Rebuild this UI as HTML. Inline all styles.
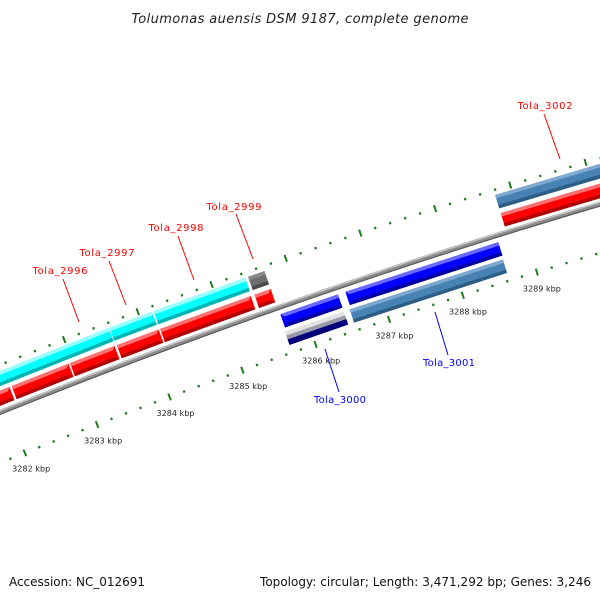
<!DOCTYPE html>
<html><head><meta charset="utf-8">
<style>
html,body{margin:0;padding:0;background:#fff;}
svg{display:block;}
text{font-family:"DejaVu Sans","Liberation Sans",sans-serif;}
</style></head>
<body>
<svg id="chart" width="600" height="600" viewBox="0 0 600 600" xmlns="http://www.w3.org/2000/svg">
  <rect x="0" y="0" width="600" height="600" fill="#fff"/>
  <g id="ticks"></g>
  <g id="backbone"></g>
  <g id="features"></g>
  <g id="ticklabels"></g>
  <g font-size="10">
    <line x1="63" y1="279" x2="79" y2="322" stroke="#f00" stroke-width="1"/>
    <text x="60" y="274" fill="#f00" text-anchor="middle" textLength="55">Tola_2996</text>
    <line x1="109" y1="261" x2="126" y2="305" stroke="#f00" stroke-width="1"/>
    <text x="107" y="256" fill="#f00" text-anchor="middle" textLength="55">Tola_2997</text>
    <line x1="178" y1="236" x2="194" y2="280" stroke="#f00" stroke-width="1"/>
    <text x="176" y="231" fill="#f00" text-anchor="middle" textLength="55">Tola_2998</text>
    <line x1="236" y1="214" x2="253" y2="259" stroke="#f00" stroke-width="1"/>
    <text x="234" y="210" fill="#f00" text-anchor="middle" textLength="55">Tola_2999</text>
    <line x1="544" y1="114" x2="560" y2="159" stroke="#f00" stroke-width="1"/>
    <text x="545" y="109" fill="#f00" text-anchor="middle" textLength="55">Tola_3002</text>
    <line x1="339" y1="392" x2="325" y2="349" stroke="#00f" stroke-width="1"/>
    <text x="340" y="403" fill="#00f" text-anchor="middle" textLength="52">Tola_3000</text>
    <line x1="448" y1="355" x2="435" y2="312" stroke="#00f" stroke-width="1"/>
    <text x="449" y="366" fill="#00f" text-anchor="middle" textLength="52">Tola_3001</text>
  </g>
  <text x="300" y="23" text-anchor="middle" font-size="13" font-style="italic" fill="#222" textLength="337">Tolumonas auensis DSM 9187, complete genome</text>
  <text x="9" y="586" font-size="12" fill="#111" textLength="136">Accession: NC_012691</text>
  <text x="591" y="586" text-anchor="end" font-size="12" fill="#111" textLength="331">Topology: circular; Length: 3,471,292 bp; Genes: 3,246</text>
</svg>
<script>
// ---- data ----
const tickValues = [3282, 3283, 3284, 3285, 3286, 3287, 3288, 3289];
const tickLabels = ["3282 kbp", "3283 kbp", "3284 kbp", "3285 kbp", "3286 kbp", "3287 kbp", "3288 kbp", "3289 kbp"];
const geneStart = [3281.20, 3282.16, 3282.96, 3283.60, 3284.19, 3285.47, 3288.78, 3281.00, 3283.59, 3284.19, 3285.47, 3288.78, 3285.70, 3286.58, 3285.68, 3286.56];
const geneEnd   = [3282.13, 3282.94, 3283.57, 3284.17, 3285.42, 3285.69, 3290.80, 3283.58, 3284.17, 3285.43, 3285.69, 3290.80, 3286.48, 3288.64, 3286.48, 3288.63];
const geneTrack = ["fwd", "fwd", "fwd", "fwd", "fwd", "fwd", "fwd", "fwd2", "fwd2", "fwd2", "fwd2", "fwd2", "rev", "rev", "rev2", "rev2"];
const geneType  = ["cds", "cds", "cds", "cds", "cds", "cds", "cds", "rrna", "rrna", "rrna", "misc", "gene", "cdsrev", "cdsrev", "ncrna", "gene"];

// ---- geometry ----
const CX = 2444, CY = 6486, DEG0 = -21.85, DEG_PER_KBP = 0.684, K0 = 3282;
function polar(k, r) {
  const a = (DEG0 + DEG_PER_KBP * (k - K0)) * Math.PI / 180;
  return [CX + r * Math.sin(a), CY - r * Math.cos(a)];
}
const trackR = { fwd: 6560, fwd2: 6579, rev: 6533, rev2: 6515 };
const H = 14, TIP = 0.08;
const styles = {
  cds:    ["#ff7070", "#ff0000", "#b00000"],
  cdsrev: ["#6a6aff", "#0000ff", "#0000a0"],
  rrna:   ["#9cffff", "#00ffff", "#00b4b4"],
  misc:   ["#8a8a8a", "#6e6e6e", "#4a4a4a"],
  gene:   ["#7ea8cf", "#4682b4", "#2d5c85"],
  ncrna:  ["#e2e2e2", "#9a9aa8", "#00007a"]
};
const NS = "http://www.w3.org/2000/svg";
const ticksG = document.getElementById('ticks');
const bbG = document.getElementById('backbone');
const featG = document.getElementById('features');
const tlG = document.getElementById('ticklabels');

function pts(list) { return list.map(p => p[0].toFixed(2) + "," + p[1].toFixed(2)).join(" "); }

// band polygon between radii ra<rb, with optional arrow tip ('end', 'start', or none)
function band(k0, k1, rc, ra, rb, tip) {
  const half = H / 2;
  const fx = r => TIP * Math.abs(r - rc) / half;
  const poly = [];
  let s0 = k0, s1 = k1;
  const endAt = r => tip === 'end' ? k1 - TIP + fx(r) : k1;
  const startAt = r => tip === 'start' ? k0 + TIP - fx(r) : k0;
  // top edge (rb) from start to end
  poly.push(polar(startAt(rb), rb));
  poly.push(polar(endAt(rb), rb));
  if (tip === 'end' && ra < rc && rb > rc) poly.push(polar(k1, rc));
  poly.push(polar(endAt(ra), ra));
  poly.push(polar(startAt(ra), ra));
  if (tip === 'start' && ra < rc && rb > rc) poly.push(polar(k0, rc));
  return pts(poly);
}

// ---- ticks ----
function tickRow(r, name) {
  for (let i = 0; i <= 60; i++) {
    const k = 3280 + i * 0.2;
    const major = (i % 5 === 0);
    const h = major ? 3.6 : 1.2;
    const p1 = polar(k, r - h), p2 = polar(k, r + h);
    const ln = document.createElementNS(NS, 'line');
    
    
    ln.setAttribute('x1', p1[0]); ln.setAttribute('y1', p1[1]);
    ln.setAttribute('x2', p2[0]); ln.setAttribute('y2', p2[1]);
    ln.setAttribute('stroke', '#1c7c1c');
    ln.setAttribute('stroke-width', major ? 2 : 2.2);
    ticksG.appendChild(ln);
  }
}
tickRow(6591, 'outer');
tickRow(6500, 'inner');

tickValues.forEach((v, i) => {
  const p = polar(v, 6483);
  const t = document.createElementNS(NS, 'text');
  
  
  t.setAttribute('x', p[0]); t.setAttribute('y', p[1] + 3);
  t.setAttribute('text-anchor', 'middle');
  t.setAttribute('font-size', '8');
  t.setAttribute('fill', '#222');
  t.setAttribute('textLength', '38');
  t.textContent = tickLabels[i];
  tlG.appendChild(t);
});

// ---- backbone ----
function arcPath(r) {
  const list = [];
  for (let k = 3280; k <= 3292; k += 0.1) list.push(polar(k, r));
  return pts(list);
}
[[6547, 5, '#8c8c8c', 'backbone-body'], [6548.6, 1.5, '#c4c4c4', 'backbone-highlight'], [6545, 1.2, '#5c5c5c', 'backbone-shadow']].forEach(b => {
  const pl = document.createElementNS(NS, 'polyline');
  
  
  pl.setAttribute('points', arcPath(b[0]));
  pl.setAttribute('fill', 'none');
  pl.setAttribute('stroke', b[2]);
  pl.setAttribute('stroke-width', b[1]);
  bbG.appendChild(pl);
});

// ---- features ----
geneStart.forEach((s, i) => {
  const e = geneEnd[i];
  const rc = trackR[geneTrack[i]];
  const type = geneType[i];
  const st = styles[type];
  const tip = type === 'cds' ? 'end' : (type === 'cdsrev' ? 'start' : 'none');
  const g = document.createElementNS(NS, 'g');
  
  
  const lo = rc - H / 2, hi = rc + H / 2;
  let bands;
  if (type === 'ncrna') bands = [[hi - 4, hi, st[0]], [lo + 6, hi - 4, st[1]], [lo, lo + 6, st[2]]];
  else bands = [[lo, hi, st[1]], [hi - 3.5, hi, st[0]], [lo, lo + 3.5, st[2]]];
  bands.forEach(b => {
    const pg = document.createElementNS(NS, 'polygon');
    
    
    pg.setAttribute('points', band(s, e, rc, b[0], b[1], tip));
    pg.setAttribute('fill', b[2]);
    g.appendChild(pg);
  });
  featG.appendChild(g);
});
</script>
</body></html>
